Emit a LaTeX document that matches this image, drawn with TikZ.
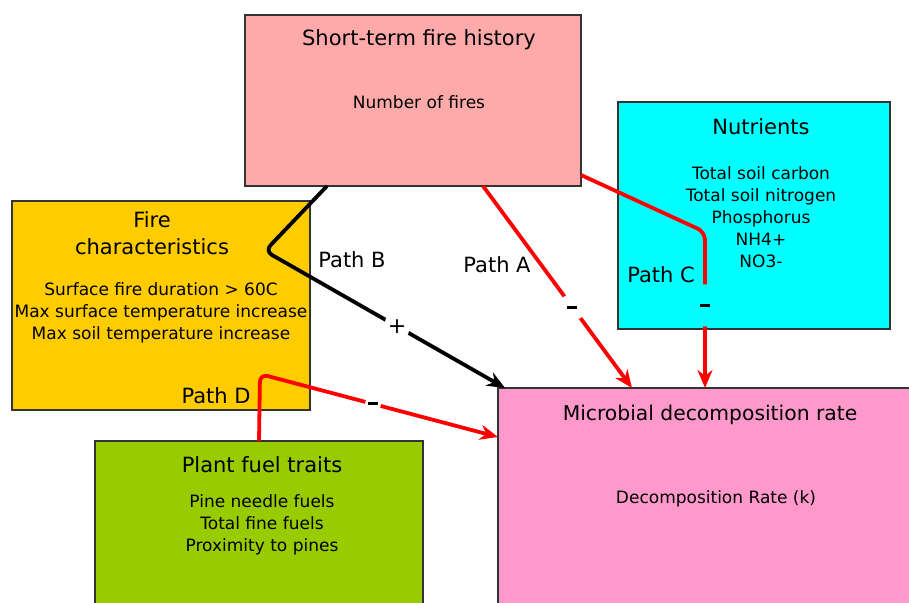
\documentclass[tikz,border=0pt]{standalone}
\usepackage{fontspec}
\setmainfont{DejaVu Sans}
\usetikzlibrary{arrows.meta,calc}
\definecolor{histpink}{HTML}{FFAAAA}
\definecolor{nutcyan}{HTML}{00FFFF}
\definecolor{fireorange}{HTML}{FFCC00}
\definecolor{fuelgreen}{HTML}{99CC00}
\definecolor{decpink}{HTML}{FF99CC}
\tikzset{
  box/.style = {draw=black!80, line width=1.3pt, anchor=north west,
                inner sep=0pt, outer sep=0pt},
  title/.style = {font=\fontsize{21}{27}\selectfont, align=center},
  body/.style = {font=\fontsize{17}{22}\selectfont, align=center},
  link/.style = {line width=3.8pt, rounded corners=8pt,
                 -{Stealth[length=18pt, width=15pt]}},
  sign/.style = {font=\fontsize{22}{22}\selectfont, fill=white, text=black,
                 inner sep=0pt, minimum size=24pt}
}
\newcommand{\minus}{\rule{10pt}{3pt}}

\begin{document}
\begin{tikzpicture}[x=1pt, y=-1pt]
	\useasboundingbox (0,0) rectangle (909,602);
	\clip (0,0) rectangle (909,602);

	% Boxes
	\node[box, fill=histpink, minimum width=336pt, minimum height=171pt] (hist) at (245,15) {};
	\node[box, fill=nutcyan, minimum width=272pt, minimum height=227pt] (nut) at (618,102) {};
	\node[box, fill=fireorange, minimum width=298pt, minimum height=209pt] (fire) at (12,201) {};
	\node[box, fill=fuelgreen, minimum width=328pt, minimum height=200pt] (fuel) at (95,441) {};
	\node[box, fill=decpink, minimum width=430pt, minimum height=240pt] (dec) at (498,388) {};

	% Texts
	\node[title] (histtitle) at (419,40) {Short-term fire history};
	\node[body] (histbody) at (419,102) {Number of fires};
	\node[title] (nuttitle) at (761,127) {Nutrients};
	\node[body] (nutbody) at (761,217) {Total soil carbon\\Total soil nitrogen\\Phosphorus\\NH4+\\NO3-};
	\node[title] (firetitle) at (152,233) {Fire\\characteristics};
	\node[body] (firebody) at (161,313) {Surface fire duration > 60C\\Max surface temperature increase\\Max soil temperature increase};
	\node[title] (fueltitle) at (262,465) {Plant fuel traits};
	\node[body] (fuelbody) at (262,525) {Pine needle fuels\\Total fine fuels\\Proximity to pines};
	\node[title, font=\fontsize{20.3}{27}\selectfont] (dectitle) at (710,415) {Microbial decomposition rate};
	\node[body] (decbody) at (716,499) {Decomposition Rate (k)};

	% Path labels
	\node[title] (labB) at (352,260) {Path B};
	\node[title] (labA) at (497,265) {Path A};
	\node[title] (labC) at (661,275) {Path C};
	\node[title] (labD) at (216,396) {Path D};

	% Corners
	\coordinate (cB) at (265,251);
	\coordinate (cC) at (705,232);
	\coordinate (cD) at (260,374);

	% Paths
	\draw[link, black] ($(hist.south west)+(82,0)$) -- (cB)
		-- node[sign, pos=0.55] {+} ($(dec.north west)+(7,0)$); % B
	\draw[link, red] ($(hist.south west)+(238,0)$)
		-- node[sign, pos=0.6] {\minus} ($(dec.north west)+(134,0)$); % A
	\draw[link, red] ($(hist.south east)+(0,-11)$) -- (cC)
		-- node[sign, pos=0.47, fill=nutcyan, minimum height=42pt] {\minus} ($(dec.north west)+(207,0)$); % C
	\draw[link, red] ($(fuel.north west)+(164,0)$) -- (cD)
		-- node[sign, pos=0.475, minimum size=16pt] {\minus} ($(dec.north west)+(0,49)$); % D

\end{tikzpicture}
\end{document}
